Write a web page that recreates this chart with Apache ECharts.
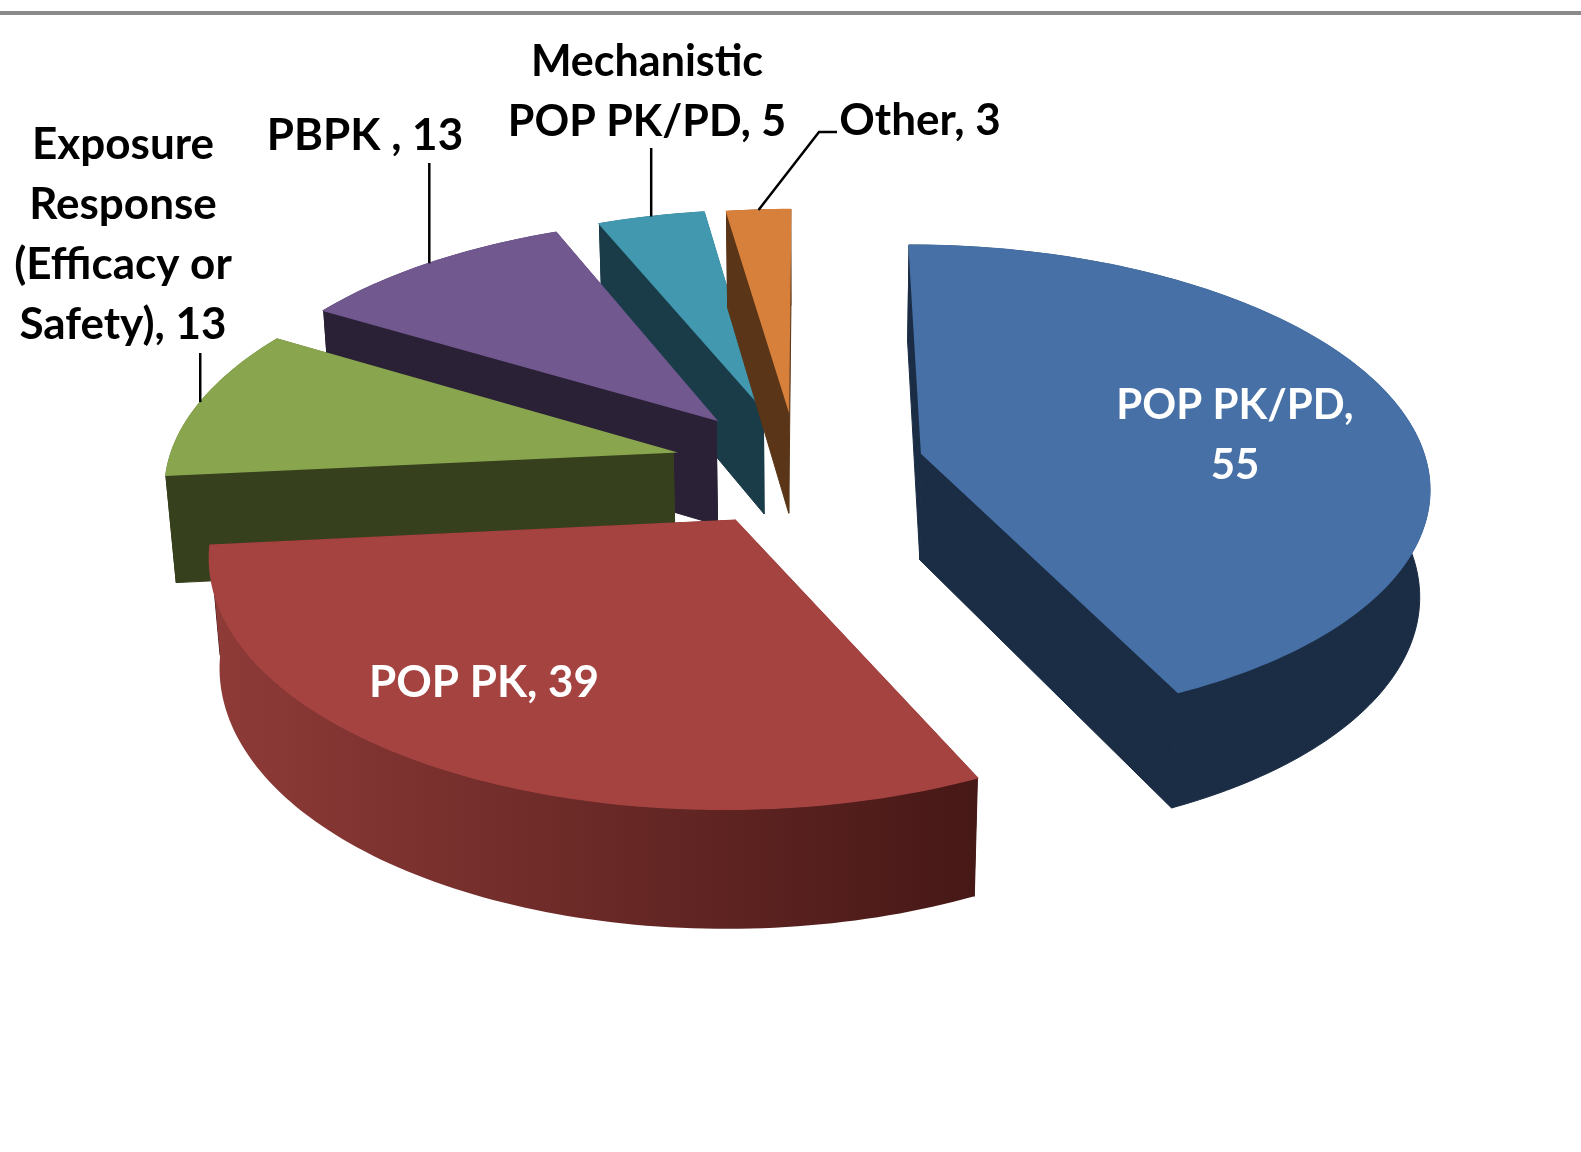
<!DOCTYPE html>
<html>
<head>
<meta charset="utf-8">
<title>Model types</title>
<script src="https://cdn.jsdelivr.net/npm/echarts@6/dist/echarts.min.js"></script>
<style>
  html, body { margin: 0; padding: 0; background: #fff; }
  #chart { width: 1581px; height: 1152px; }
</style>
</head>
<body>
<div id="chart"></div>
<script>
  // data, clockwise from 12 o'clock
  const categories = ['POP PK/PD', 'POP PK', 'Exposure Response (Efficacy or Safety)', 'PBPK', 'Mechanistic POP PK/PD', 'Other']
  const values = [55, 39, 13, 13, 5, 3]
  const labelTexts = ['POP PK/PD,\n55', 'POP PK, 39', 'Exposure\nResponse\n(Efficacy or\nSafety), 13', 'PBPK , 13', 'Mechanistic\nPOP PK/PD, 5', 'Other, 3']

  // colours per slice
  const topColors = ['#4670A6', '#A54341', '#89A54E', '#71588F', '#4198AF', '#D7803C']
  const wallColors = ['#1B2D45', '#461816', '#37401D', '#2B2136', '#1A3C48', '#5A3517']

  // 3d view
  const view = { cx: 809, cy: 464, radius: 505, height: 123, elevation: 28, distance: 3540 }
  const explode = [112, 135, 135, 135, 135, 125]
  // the original's slices don't quite sit on one centre
  const nudge = [[4, 2], [-5, -1], [-5, 4], [-7, 6], [-11, 10], [-12, 3]]
  const paintOrder = [4, 5, 3, 2, 1, 0]

  // label layout
  const labelPos = [[1235, 435], [484, 683], [123, 235], [365, 136], [647, 92], [920, 121]]
  const labelSizes = [42, 44, 44, 44, 43, 44]
  const labelColors = ['#fff', '#fff', '#000', '#000', '#000', '#000']
  const leaderPath = [null, null, [[null, 353]], [[null, 163]], [[null, 148]], [[819, 132], [837, 132]]]

  const total = values.reduce((a, b) => a + b, 0)
  const sinE = Math.sin(view.elevation * Math.PI / 180)
  const cosE = Math.cos(view.elevation * Math.PI / 180)

  function project(x, y, z) {
    const w = 1 + (y * cosE - z * sinE) / view.distance
    return [view.cx + x / w, view.cy - (y * sinE + z * cosE) / w]
  }

  function sliceAngles(idx) {
    const before = values.slice(0, idx).reduce((a, b) => a + b, 0)
    return [before / total * 2 * Math.PI, (before + values[idx]) / total * 2 * Math.PI]
  }

  function renderSlice(params, api) {
    const idx = api.value(0)
    const [a0, a1] = sliceAngles(idx)
    const mid = (a0 + a1) / 2
    const ox = Math.sin(mid) * explode[idx] + nudge[idx][0]
    const oy = Math.cos(mid) * explode[idx] - nudge[idx][1]
    const order = paintOrder.indexOf(idx) * 10

    const rim = (a, z) => project(ox + view.radius * Math.sin(a), oy + view.radius * Math.cos(a), z)
    const apex = z => project(ox, oy, z)

    const steps = Math.max(4, Math.ceil((a1 - a0) / 0.02))
    const topArc = []
    const bottomArc = []
    for (let i = 0; i <= steps; i++) {
      const a = a0 + (a1 - a0) * i / steps
      topArc.push(rim(a, 0))
      bottomArc.push(rim(a, -view.height))
    }

    let outerFill = wallColors[idx]
    let outerStroke = wallColors[idx]
    if (idx === 1) {
      outerFill = new echarts.graphic.LinearGradient(0, 0, 1, 0, [
        { offset: 0, color: '#8F3B38' },
        { offset: 1, color: wallColors[idx] }
      ])
      outerStroke = null
    }

    const wallStyle = { fill: wallColors[idx], stroke: wallColors[idx], lineWidth: 1 }
    const children = [
      { type: 'polygon', z2: order, shape: { points: [apex(0), rim(a0, 0), rim(a0, -view.height), apex(-view.height)] }, style: wallStyle },
      { type: 'polygon', z2: order, shape: { points: [apex(0), rim(a1, 0), rim(a1, -view.height), apex(-view.height)] }, style: wallStyle },
      { type: 'polygon', z2: order + 1, shape: { points: topArc.concat(bottomArc.slice().reverse()) }, style: { fill: outerFill, stroke: outerStroke, lineWidth: 1 } },
      // same colour stroke so the walls don't fringe around the top face
      { type: 'polygon', z2: order + 2, shape: { points: [apex(0)].concat(topArc) }, style: { fill: topColors[idx], stroke: topColors[idx], lineWidth: 1.5 } }
    ]

    // leader line starts on the rim at the middle of the slice
    if (leaderPath[idx]) {
      const start = rim(mid, 0)
      const pts = [start].concat(leaderPath[idx].map(p => [p[0] === null ? start[0] : p[0], p[1]]))
      children.push({ type: 'polyline', z2: 90, shape: { points: pts }, style: { stroke: '#000', lineWidth: 2.5, fill: null } })
    }

    children.push({
      type: 'text',
      z2: 100,
      style: {
        text: labelTexts[idx],
        x: labelPos[idx][0],
        y: labelPos[idx][1],
        align: 'center',
        verticalAlign: 'middle',
        fill: labelColors[idx],
        font: 'bold ' + labelSizes[idx] + 'px Lato',
        lineHeight: 60
      }
    })

    return { type: 'group', children }
  }

  const chart = echarts.init(document.getElementById('chart'), null, { renderer: 'canvas' })
  chart.setOption({
    animation: false,
    backgroundColor: '#fff',
    graphic: [{
      type: 'rect',
      shape: { x: 0, y: 11, width: 1581, height: 4 },
      style: { fill: '#8A8A8A' }
    }],
    series: [{
      type: 'custom',
      coordinateSystem: 'none',
      renderItem: renderSlice,
      data: categories.map((c, i) => ({ name: c, value: [i, values[i]] }))
    }]
  })
</script>
</body>
</html>
